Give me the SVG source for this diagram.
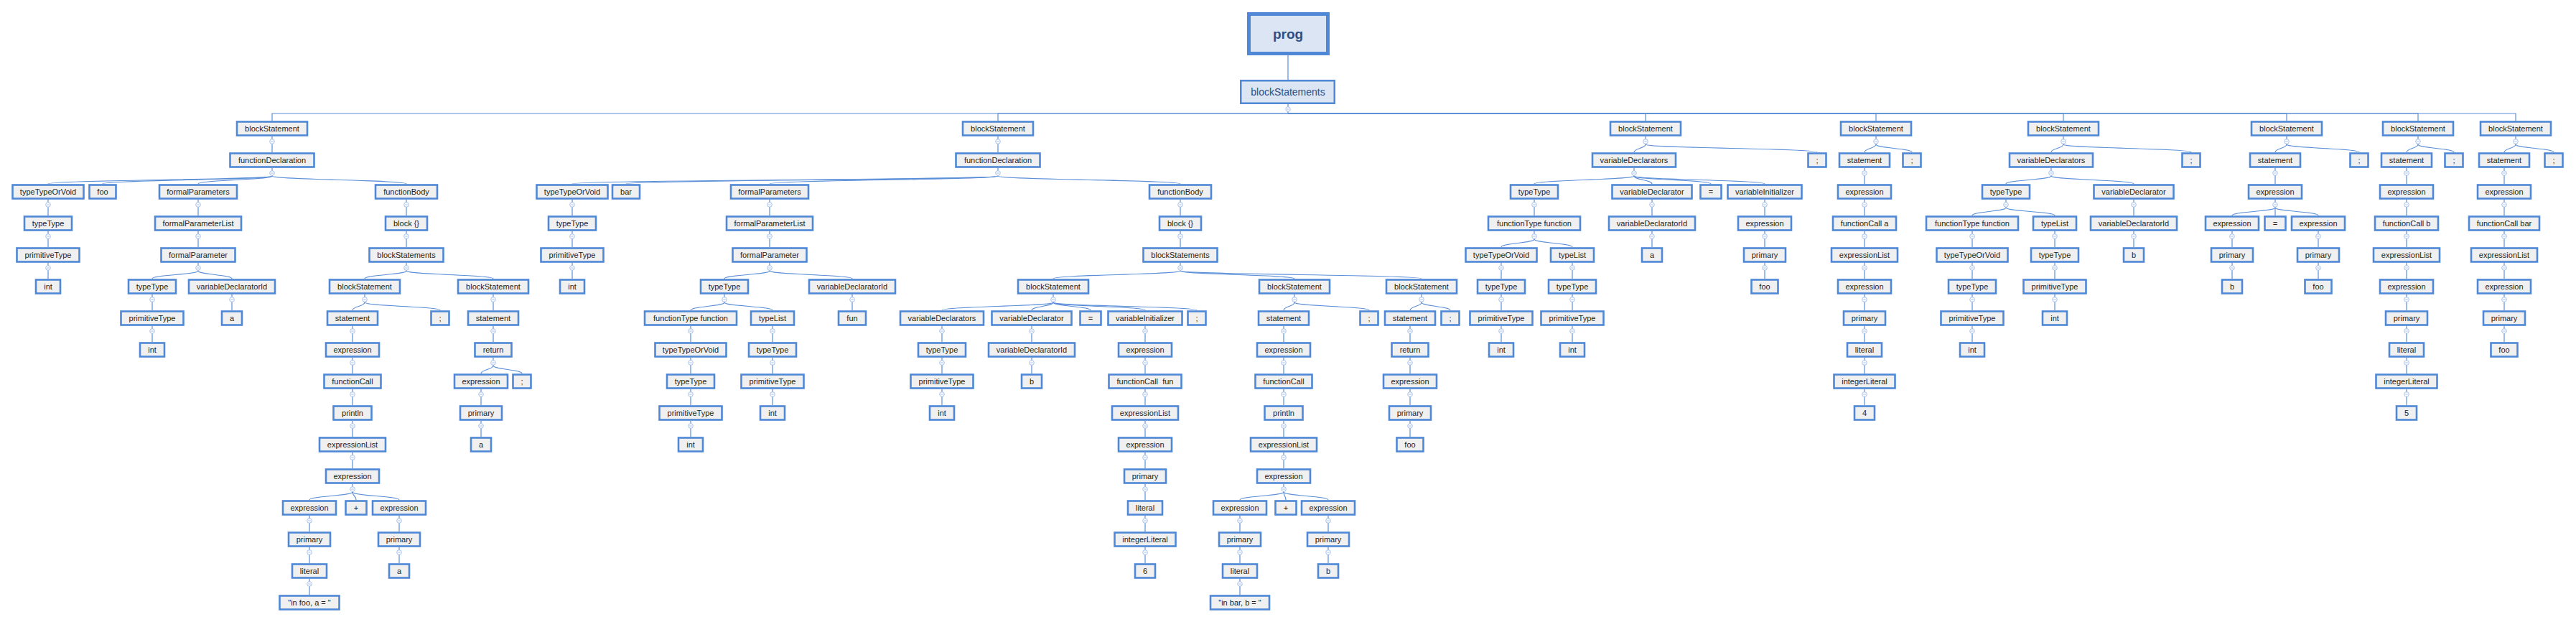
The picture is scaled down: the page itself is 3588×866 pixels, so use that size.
<svg xmlns="http://www.w3.org/2000/svg" xmlns:xlink="http://www.w3.org/1999/xlink" width="3588" height="866" viewBox="0 0 3588 866">
<style>
.n rect{fill:#f0f0f0;stroke:#4f88d6;stroke-width:2.6}
.n text{font-family:"Liberation Sans",Arial,sans-serif;font-size:11px;fill:#1e1e1e;text-anchor:middle}
#connectors path{fill:none;stroke:#5b8fd8;stroke-width:1.2}
.tg circle{fill:#ffffff;stroke:#a7c0ec;stroke-width:1}
.tg path{fill:none;stroke:#a7c0ec;stroke-width:1}
.hd rect{fill:#dbe5f3;stroke:#4f88d6}
.hd text{font-family:"Liberation Sans",Arial,sans-serif;fill:#2e4f85;text-anchor:middle}
</style>
<defs>
<g id="tg" class="tg"><circle cx="0" cy="0" r="3.3"/><path d="M-1.8,0h3.6"/></g>
</defs>
<rect x="0" y="0" width="3588" height="866" fill="#ffffff"/>
<g id="connectors">
<path d="M1794,77V111"/>
<path d="M1794,145V158H379V168"/>
<path d="M1794,158H1390V168"/>
<path d="M1794,158H2292V168"/>
<path d="M1794,158H2613V168"/>
<path d="M1794,158H2874V168"/>
<path d="M1794,158H3185V168"/>
<path d="M1794,158H3368V168"/>
<path d="M1794,158H3504V168"/>
<!-- subtree A -->
<path d="M379,190V212"/>
<path d="M379,234V245"/>
<path d="M379,245C379,250.5 67,250.5 67,256"/>
<path d="M379,245C379,250.5 143,250.5 143,256"/>
<path d="M379,245C379,250.5 276,250.5 276,256"/>
<path d="M379,245C379,250.5 566,250.5 566,256"/>
<path d="M67,278V300"/>
<path d="M67,322V344"/>
<path d="M67,366V388"/>
<path d="M276,278V300"/>
<path d="M276,322V344"/>
<path d="M276,366V377"/>
<path d="M276,377C276,382.5 212,382.5 212,388"/>
<path d="M276,377C276,382.5 323,382.5 323,388"/>
<path d="M212,410V432"/>
<path d="M212,454V476"/>
<path d="M323,410V432"/>
<path d="M566,278V300"/>
<path d="M566,322V344"/>
<path d="M566,366V377"/>
<path d="M566,377C566,382.5 508,382.5 508,388"/>
<path d="M566,377C566,382.5 687,382.5 687,388"/>
<path d="M508,410V421"/>
<path d="M508,421C508,426.5 491,426.5 491,432"/>
<path d="M508,421C508,426.5 613,426.5 613,432"/>
<path d="M491,454V476"/>
<path d="M491,498V520"/>
<path d="M491,542V564"/>
<path d="M491,586V608"/>
<path d="M491,630V652"/>
<path d="M491,674V685"/>
<path d="M491,685C491,690.5 431,690.5 431,696"/>
<path d="M491,685C491,690.5 496,690.5 496,696"/>
<path d="M491,685C491,690.5 556,690.5 556,696"/>
<path d="M431,718V740"/>
<path d="M431,762V784"/>
<path d="M431,806V828"/>
<path d="M556,718V740"/>
<path d="M556,762V784"/>
<path d="M687,410V432"/>
<path d="M687,454V476"/>
<path d="M687,498V509"/>
<path d="M687,509C687,514.5 670,514.5 670,520"/>
<path d="M687,509C687,514.5 727,514.5 727,520"/>
<path d="M670,542V564"/>
<path d="M670,586V608"/>
<!-- subtree B -->
<path d="M1390,190V212"/>
<path d="M1390,234V245"/>
<path d="M1390,245C1390,250.5 797,250.5 797,256"/>
<path d="M1390,245C1390,250.5 872,250.5 872,256"/>
<path d="M1390,245C1390,250.5 1072,250.5 1072,256"/>
<path d="M1390,245C1390,250.5 1644,250.5 1644,256"/>
<path d="M797,278V300"/>
<path d="M797,322V344"/>
<path d="M797,366V388"/>
<path d="M1072,278V300"/>
<path d="M1072,322V344"/>
<path d="M1072,366V377"/>
<path d="M1072,377C1072,382.5 1009,382.5 1009,388"/>
<path d="M1072,377C1072,382.5 1187,382.5 1187,388"/>
<path d="M1009,410V421"/>
<path d="M1009,421C1009,426.5 962,426.5 962,432"/>
<path d="M1009,421C1009,426.5 1076,426.5 1076,432"/>
<path d="M962,454V476"/>
<path d="M962,498V520"/>
<path d="M962,542V564"/>
<path d="M962,586V608"/>
<path d="M1076,454V476"/>
<path d="M1076,498V520"/>
<path d="M1076,542V564"/>
<path d="M1187,410V432"/>
<path d="M1644,278V300"/>
<path d="M1644,322V344"/>
<path d="M1644,366V377"/>
<path d="M1644,377C1644,382.5 1467,382.5 1467,388"/>
<path d="M1644,377C1644,382.5 1803,382.5 1803,388"/>
<path d="M1644,377C1644,382.5 1980,382.5 1980,388"/>
<path d="M1467,410V421"/>
<path d="M1467,421C1467,426.5 1312,426.5 1312,432"/>
<path d="M1467,421C1467,426.5 1437,426.5 1437,432"/>
<path d="M1467,421C1467,426.5 1519,426.5 1519,432"/>
<path d="M1467,421C1467,426.5 1595,426.5 1595,432"/>
<path d="M1467,421C1467,426.5 1667,426.5 1667,432"/>
<path d="M1312,454V476"/>
<path d="M1312,498V520"/>
<path d="M1312,542V564"/>
<path d="M1437,454V476"/>
<path d="M1437,498V520"/>
<path d="M1595,454V476"/>
<path d="M1595,498V520"/>
<path d="M1595,542V564"/>
<path d="M1595,586V608"/>
<path d="M1595,630V652"/>
<path d="M1595,674V696"/>
<path d="M1595,718V740"/>
<path d="M1595,762V784"/>
<path d="M1803,410V421"/>
<path d="M1803,421C1803,426.5 1788,426.5 1788,432"/>
<path d="M1803,421C1803,426.5 1907,426.5 1907,432"/>
<path d="M1788,454V476"/>
<path d="M1788,498V520"/>
<path d="M1788,542V564"/>
<path d="M1788,586V608"/>
<path d="M1788,630V652"/>
<path d="M1788,674V685"/>
<path d="M1788,685C1788,690.5 1727,690.5 1727,696"/>
<path d="M1788,685C1788,690.5 1791,690.5 1791,696"/>
<path d="M1788,685C1788,690.5 1850,690.5 1850,696"/>
<path d="M1727,718V740"/>
<path d="M1727,762V784"/>
<path d="M1727,806V828"/>
<path d="M1850,718V740"/>
<path d="M1850,762V784"/>
<path d="M1980,410V421"/>
<path d="M1980,421C1980,426.5 1964,426.5 1964,432"/>
<path d="M1980,421C1980,426.5 2020,426.5 2020,432"/>
<path d="M1964,454V476"/>
<path d="M1964,498V520"/>
<path d="M1964,542V564"/>
<path d="M1964,586V608"/>
<!-- subtree C -->
<path d="M2292,190V201"/>
<path d="M2292,201C2292,206.5 2276,206.5 2276,212"/>
<path d="M2292,201C2292,206.5 2531,206.5 2531,212"/>
<path d="M2276,234V245"/>
<path d="M2276,245C2276,250.5 2137,250.5 2137,256"/>
<path d="M2276,245C2276,250.5 2301,250.5 2301,256"/>
<path d="M2276,245C2276,250.5 2383,250.5 2383,256"/>
<path d="M2276,245C2276,250.5 2458,250.5 2458,256"/>
<path d="M2137,278V300"/>
<path d="M2137,322V333"/>
<path d="M2137,333C2137,338.5 2091,338.5 2091,344"/>
<path d="M2137,333C2137,338.5 2190,338.5 2190,344"/>
<path d="M2091,366V388"/>
<path d="M2091,410V432"/>
<path d="M2091,454V476"/>
<path d="M2190,366V388"/>
<path d="M2190,410V432"/>
<path d="M2190,454V476"/>
<path d="M2301,278V300"/>
<path d="M2301,322V344"/>
<path d="M2458,278V300"/>
<path d="M2458,322V344"/>
<path d="M2458,366V388"/>
<!-- subtree D -->
<path d="M2613,190V201"/>
<path d="M2613,201C2613,206.5 2597,206.5 2597,212"/>
<path d="M2613,201C2613,206.5 2663,206.5 2663,212"/>
<path d="M2597,234V256"/>
<path d="M2597,278V300"/>
<path d="M2597,322V344"/>
<path d="M2597,366V388"/>
<path d="M2597,410V432"/>
<path d="M2597,454V476"/>
<path d="M2597,498V520"/>
<path d="M2597,542V564"/>
<!-- subtree E -->
<path d="M2874,190V201"/>
<path d="M2874,201C2874,206.5 2857,206.5 2857,212"/>
<path d="M2874,201C2874,206.5 3052,206.5 3052,212"/>
<path d="M2857,234V245"/>
<path d="M2857,245C2857,250.5 2794,250.5 2794,256"/>
<path d="M2857,245C2857,250.5 2972,250.5 2972,256"/>
<path d="M2794,278V289"/>
<path d="M2794,289C2794,294.5 2747,294.5 2747,300"/>
<path d="M2794,289C2794,294.5 2862,294.5 2862,300"/>
<path d="M2747,322V344"/>
<path d="M2747,366V388"/>
<path d="M2747,410V432"/>
<path d="M2747,454V476"/>
<path d="M2862,322V344"/>
<path d="M2862,366V388"/>
<path d="M2862,410V432"/>
<path d="M2972,278V300"/>
<path d="M2972,322V344"/>
<!-- subtree F -->
<path d="M3185,190V201"/>
<path d="M3185,201C3185,206.5 3169,206.5 3169,212"/>
<path d="M3185,201C3185,206.5 3286,206.5 3286,212"/>
<path d="M3169,234V256"/>
<path d="M3169,278V289"/>
<path d="M3169,289C3169,294.5 3109,294.5 3109,300"/>
<path d="M3169,289V300"/>
<path d="M3169,289C3169,294.5 3229,294.5 3229,300"/>
<path d="M3109,322V344"/>
<path d="M3109,366V388"/>
<path d="M3229,322V344"/>
<path d="M3229,366V388"/>
<!-- subtree G -->
<path d="M3368,190V201"/>
<path d="M3368,201C3368,206.5 3352,206.5 3352,212"/>
<path d="M3368,201C3368,206.5 3418,206.5 3418,212"/>
<path d="M3352,234V256"/>
<path d="M3352,278V300"/>
<path d="M3352,322V344"/>
<path d="M3352,366V388"/>
<path d="M3352,410V432"/>
<path d="M3352,454V476"/>
<path d="M3352,498V520"/>
<path d="M3352,542V564"/>
<!-- subtree H -->
<path d="M3504,190V201"/>
<path d="M3504,201C3504,206.5 3488,206.5 3488,212"/>
<path d="M3504,201C3504,206.5 3557,206.5 3557,212"/>
<path d="M3488,234V256"/>
<path d="M3488,278V300"/>
<path d="M3488,322V344"/>
<path d="M3488,366V388"/>
<path d="M3488,410V432"/>
<path d="M3488,454V476"/>
</g>
<g id="toggles">
<use xlink:href="#tg" href="#tg" x="1794" y="152"/>
<use href="#tg" x="379" y="197"/><use href="#tg" x="379" y="241"/>
<use href="#tg" x="67" y="285"/><use href="#tg" x="67" y="329"/><use href="#tg" x="67" y="373"/>
<use href="#tg" x="276" y="285"/><use href="#tg" x="276" y="329"/><use href="#tg" x="276" y="373"/>
<use href="#tg" x="212" y="417"/><use href="#tg" x="212" y="461"/><use href="#tg" x="323" y="417"/>
<use href="#tg" x="566" y="285"/><use href="#tg" x="566" y="329"/><use href="#tg" x="566" y="373"/>
<use href="#tg" x="508" y="417"/><use href="#tg" x="687" y="417"/>
<use href="#tg" x="491" y="461"/><use href="#tg" x="491" y="505"/><use href="#tg" x="491" y="549"/><use href="#tg" x="491" y="593"/><use href="#tg" x="491" y="637"/><use href="#tg" x="491" y="681"/>
<use href="#tg" x="431" y="725"/><use href="#tg" x="431" y="769"/><use href="#tg" x="431" y="813"/>
<use href="#tg" x="556" y="725"/><use href="#tg" x="556" y="769"/>
<use href="#tg" x="687" y="461"/><use href="#tg" x="687" y="505"/><use href="#tg" x="670" y="549"/><use href="#tg" x="670" y="593"/>
<use href="#tg" x="1390" y="197"/><use href="#tg" x="1390" y="241"/>
<use href="#tg" x="797" y="285"/><use href="#tg" x="797" y="329"/><use href="#tg" x="797" y="373"/>
<use href="#tg" x="1072" y="285"/><use href="#tg" x="1072" y="329"/><use href="#tg" x="1072" y="373"/>
<use href="#tg" x="1009" y="417"/><use href="#tg" x="1187" y="417"/>
<use href="#tg" x="962" y="461"/><use href="#tg" x="962" y="505"/><use href="#tg" x="962" y="549"/><use href="#tg" x="962" y="593"/>
<use href="#tg" x="1076" y="461"/><use href="#tg" x="1076" y="505"/><use href="#tg" x="1076" y="549"/>
<use href="#tg" x="1644" y="285"/><use href="#tg" x="1644" y="329"/><use href="#tg" x="1644" y="373"/>
<use href="#tg" x="1467" y="417"/><use href="#tg" x="1803" y="417"/><use href="#tg" x="1980" y="417"/>
<use href="#tg" x="1312" y="461"/><use href="#tg" x="1312" y="505"/><use href="#tg" x="1312" y="549"/>
<use href="#tg" x="1437" y="461"/><use href="#tg" x="1437" y="505"/>
<use href="#tg" x="1595" y="461"/><use href="#tg" x="1595" y="505"/><use href="#tg" x="1595" y="549"/><use href="#tg" x="1595" y="593"/><use href="#tg" x="1595" y="637"/><use href="#tg" x="1595" y="681"/><use href="#tg" x="1595" y="725"/><use href="#tg" x="1595" y="769"/>
<use href="#tg" x="1788" y="461"/><use href="#tg" x="1788" y="505"/><use href="#tg" x="1788" y="549"/><use href="#tg" x="1788" y="593"/><use href="#tg" x="1788" y="637"/><use href="#tg" x="1788" y="681"/>
<use href="#tg" x="1727" y="725"/><use href="#tg" x="1727" y="769"/><use href="#tg" x="1727" y="813"/>
<use href="#tg" x="1850" y="725"/><use href="#tg" x="1850" y="769"/>
<use href="#tg" x="1964" y="461"/><use href="#tg" x="1964" y="505"/><use href="#tg" x="1964" y="549"/><use href="#tg" x="1964" y="593"/>
<use href="#tg" x="2292" y="197"/><use href="#tg" x="2276" y="241"/>
<use href="#tg" x="2137" y="285"/><use href="#tg" x="2137" y="329"/>
<use href="#tg" x="2091" y="373"/><use href="#tg" x="2091" y="417"/><use href="#tg" x="2091" y="461"/>
<use href="#tg" x="2190" y="373"/><use href="#tg" x="2190" y="417"/><use href="#tg" x="2190" y="461"/>
<use href="#tg" x="2301" y="285"/><use href="#tg" x="2301" y="329"/>
<use href="#tg" x="2458" y="285"/><use href="#tg" x="2458" y="329"/><use href="#tg" x="2458" y="373"/>
<use href="#tg" x="2613" y="197"/>
<use href="#tg" x="2597" y="241"/><use href="#tg" x="2597" y="285"/><use href="#tg" x="2597" y="329"/><use href="#tg" x="2597" y="373"/><use href="#tg" x="2597" y="417"/><use href="#tg" x="2597" y="461"/><use href="#tg" x="2597" y="505"/><use href="#tg" x="2597" y="549"/>
<use href="#tg" x="2874" y="197"/><use href="#tg" x="2857" y="241"/><use href="#tg" x="2794" y="285"/>
<use href="#tg" x="2747" y="329"/><use href="#tg" x="2747" y="373"/><use href="#tg" x="2747" y="417"/><use href="#tg" x="2747" y="461"/>
<use href="#tg" x="2862" y="329"/><use href="#tg" x="2862" y="373"/><use href="#tg" x="2862" y="417"/>
<use href="#tg" x="2972" y="285"/><use href="#tg" x="2972" y="329"/>
<use href="#tg" x="3185" y="197"/><use href="#tg" x="3169" y="241"/><use href="#tg" x="3169" y="285"/>
<use href="#tg" x="3109" y="329"/><use href="#tg" x="3109" y="373"/><use href="#tg" x="3229" y="329"/><use href="#tg" x="3229" y="373"/>
<use href="#tg" x="3368" y="197"/>
<use href="#tg" x="3352" y="241"/><use href="#tg" x="3352" y="285"/><use href="#tg" x="3352" y="329"/><use href="#tg" x="3352" y="373"/><use href="#tg" x="3352" y="417"/><use href="#tg" x="3352" y="461"/><use href="#tg" x="3352" y="505"/><use href="#tg" x="3352" y="549"/>
<use href="#tg" x="3504" y="197"/>
<use href="#tg" x="3488" y="241"/><use href="#tg" x="3488" y="285"/><use href="#tg" x="3488" y="329"/><use href="#tg" x="3488" y="373"/><use href="#tg" x="3488" y="417"/><use href="#tg" x="3488" y="461"/>
</g>
<g id="prog" class="hd"><rect x="1739.5" y="19.5" width="110" height="55" stroke-width="5"/><text x="1794" y="54" font-size="19" font-weight="bold">prog</text></g>
<g id="blockStatements" class="hd"><rect x="1728.25" y="112.25" width="130.5" height="31.5" stroke-width="2.5"/><text x="1794" y="133" font-size="14">blockStatements</text></g>
<!-- subtree A -->
<g id="A0" class="n"><rect x="330" y="169.5" width="98" height="19"/><text x="379" y="183">blockStatement</text></g>
<g id="A1" class="n"><rect x="320.5" y="213.5" width="117" height="19"/><text x="379" y="227">functionDeclaration</text></g>
<g id="A2" class="n"><rect x="17.5" y="257.5" width="99" height="19"/><text x="67" y="271">typeTypeOrVoid</text></g>
<g id="A3" class="n"><rect x="124.5" y="257.5" width="37" height="19"/><text x="143" y="271">foo</text></g>
<g id="A4" class="n"><rect x="222" y="257.5" width="108" height="19"/><text x="276" y="271">formalParameters</text></g>
<g id="A5" class="n"><rect x="523" y="257.5" width="86" height="19"/><text x="566" y="271">functionBody</text></g>
<g id="A6" class="n"><rect x="34" y="301.5" width="66" height="19"/><text x="67" y="315">typeType</text></g>
<g id="A7" class="n"><rect x="23.5" y="345.5" width="87" height="19"/><text x="67" y="359">primitiveType</text></g>
<g id="A8" class="n"><rect x="50" y="389.5" width="34" height="19"/><text x="67" y="403">int</text></g>
<g id="A9" class="n"><rect x="216" y="301.5" width="120" height="19"/><text x="276" y="315">formalParameterList</text></g>
<g id="A10" class="n"><rect x="224.5" y="345.5" width="103" height="19"/><text x="276" y="359">formalParameter</text></g>
<g id="A11" class="n"><rect x="179" y="389.5" width="66" height="19"/><text x="212" y="403">typeType</text></g>
<g id="A12" class="n"><rect x="263" y="389.5" width="120" height="19"/><text x="323" y="403">variableDeclaratorId</text></g>
<g id="A13" class="n"><rect x="168.5" y="433.5" width="87" height="19"/><text x="212" y="447">primitiveType</text></g>
<g id="A14" class="n"><rect x="195" y="477.5" width="34" height="19"/><text x="212" y="491">int</text></g>
<g id="A15" class="n"><rect x="309" y="433.5" width="28" height="19"/><text x="323" y="447">a</text></g>
<g id="A16" class="n"><rect x="537" y="301.5" width="58" height="19"/><text x="566" y="315">block {}</text></g>
<g id="A17" class="n"><rect x="514.5" y="345.5" width="103" height="19"/><text x="566" y="359">blockStatements</text></g>
<g id="A18" class="n"><rect x="459" y="389.5" width="98" height="19"/><text x="508" y="403">blockStatement</text></g>
<g id="A19" class="n"><rect x="638" y="389.5" width="98" height="19"/><text x="687" y="403">blockStatement</text></g>
<g id="A20" class="n"><rect x="456" y="433.5" width="70" height="19"/><text x="491" y="447">statement</text></g>
<g id="A21" class="n"><rect x="600.5" y="433.5" width="25" height="19"/><text x="613" y="447">;</text></g>
<g id="A22" class="n"><rect x="454" y="477.5" width="74" height="19"/><text x="491" y="491">expression</text></g>
<g id="A23" class="n"><rect x="451.5" y="521.5" width="79" height="19"/><text x="491" y="535">functionCall</text></g>
<g id="A24" class="n"><rect x="464.5" y="565.5" width="53" height="19"/><text x="491" y="579">println</text></g>
<g id="A25" class="n"><rect x="445" y="609.5" width="92" height="19"/><text x="491" y="623">expressionList</text></g>
<g id="A26" class="n"><rect x="454" y="653.5" width="74" height="19"/><text x="491" y="667">expression</text></g>
<g id="A27" class="n"><rect x="394" y="697.5" width="74" height="19"/><text x="431" y="711">expression</text></g>
<g id="A28" class="n"><rect x="481.5" y="697.5" width="29" height="19"/><text x="496" y="711">+</text></g>
<g id="A29" class="n"><rect x="519" y="697.5" width="74" height="19"/><text x="556" y="711">expression</text></g>
<g id="A30" class="n"><rect x="402" y="741.5" width="58" height="19"/><text x="431" y="755">primary</text></g>
<g id="A31" class="n"><rect x="407" y="785.5" width="48" height="19"/><text x="431" y="799">literal</text></g>
<g id="A32" class="n"><rect x="389.5" y="829.5" width="83" height="19"/><text x="431" y="843">"in foo, a = "</text></g>
<g id="A33" class="n"><rect x="527" y="741.5" width="58" height="19"/><text x="556" y="755">primary</text></g>
<g id="A34" class="n"><rect x="542" y="785.5" width="28" height="19"/><text x="556" y="799">a</text></g>
<g id="A35" class="n"><rect x="652" y="433.5" width="70" height="19"/><text x="687" y="447">statement</text></g>
<g id="A36" class="n"><rect x="661.5" y="477.5" width="51" height="19"/><text x="687" y="491">return</text></g>
<g id="A37" class="n"><rect x="633" y="521.5" width="74" height="19"/><text x="670" y="535">expression</text></g>
<g id="A38" class="n"><rect x="714.5" y="521.5" width="25" height="19"/><text x="727" y="535">;</text></g>
<g id="A39" class="n"><rect x="641" y="565.5" width="58" height="19"/><text x="670" y="579">primary</text></g>
<g id="A40" class="n"><rect x="656" y="609.5" width="28" height="19"/><text x="670" y="623">a</text></g>
<!-- subtree B -->
<g id="B0" class="n"><rect x="1341" y="169.5" width="98" height="19"/><text x="1390" y="183">blockStatement</text></g>
<g id="B1" class="n"><rect x="1331.5" y="213.5" width="117" height="19"/><text x="1390" y="227">functionDeclaration</text></g>
<g id="B2" class="n"><rect x="747.5" y="257.5" width="99" height="19"/><text x="797" y="271">typeTypeOrVoid</text></g>
<g id="B3" class="n"><rect x="853" y="257.5" width="38" height="19"/><text x="872" y="271">bar</text></g>
<g id="B4" class="n"><rect x="1018" y="257.5" width="108" height="19"/><text x="1072" y="271">formalParameters</text></g>
<g id="B5" class="n"><rect x="1601" y="257.5" width="86" height="19"/><text x="1644" y="271">functionBody</text></g>
<g id="B6" class="n"><rect x="764" y="301.5" width="66" height="19"/><text x="797" y="315">typeType</text></g>
<g id="B7" class="n"><rect x="753.5" y="345.5" width="87" height="19"/><text x="797" y="359">primitiveType</text></g>
<g id="B8" class="n"><rect x="780" y="389.5" width="34" height="19"/><text x="797" y="403">int</text></g>
<g id="B9" class="n"><rect x="1012" y="301.5" width="120" height="19"/><text x="1072" y="315">formalParameterList</text></g>
<g id="B10" class="n"><rect x="1020.5" y="345.5" width="103" height="19"/><text x="1072" y="359">formalParameter</text></g>
<g id="B11" class="n"><rect x="976" y="389.5" width="66" height="19"/><text x="1009" y="403">typeType</text></g>
<g id="B12" class="n"><rect x="1127" y="389.5" width="120" height="19"/><text x="1187" y="403">variableDeclaratorId</text></g>
<g id="B13" class="n"><rect x="898" y="433.5" width="128" height="19"/><text x="962" y="447">functionType function</text></g>
<g id="B14" class="n"><rect x="1046" y="433.5" width="60" height="19"/><text x="1076" y="447">typeList</text></g>
<g id="B15" class="n"><rect x="912.5" y="477.5" width="99" height="19"/><text x="962" y="491">typeTypeOrVoid</text></g>
<g id="B16" class="n"><rect x="929" y="521.5" width="66" height="19"/><text x="962" y="535">typeType</text></g>
<g id="B17" class="n"><rect x="918.5" y="565.5" width="87" height="19"/><text x="962" y="579">primitiveType</text></g>
<g id="B18" class="n"><rect x="945" y="609.5" width="34" height="19"/><text x="962" y="623">int</text></g>
<g id="B19" class="n"><rect x="1043" y="477.5" width="66" height="19"/><text x="1076" y="491">typeType</text></g>
<g id="B20" class="n"><rect x="1032.5" y="521.5" width="87" height="19"/><text x="1076" y="535">primitiveType</text></g>
<g id="B21" class="n"><rect x="1059" y="565.5" width="34" height="19"/><text x="1076" y="579">int</text></g>
<g id="B22" class="n"><rect x="1168" y="433.5" width="38" height="19"/><text x="1187" y="447">fun</text></g>
<g id="B23" class="n"><rect x="1615" y="301.5" width="58" height="19"/><text x="1644" y="315">block {}</text></g>
<g id="B24" class="n"><rect x="1592.5" y="345.5" width="103" height="19"/><text x="1644" y="359">blockStatements</text></g>
<g id="B25" class="n"><rect x="1418" y="389.5" width="98" height="19"/><text x="1467" y="403">blockStatement</text></g>
<g id="B26" class="n"><rect x="1754" y="389.5" width="98" height="19"/><text x="1803" y="403">blockStatement</text></g>
<g id="B27" class="n"><rect x="1931" y="389.5" width="98" height="19"/><text x="1980" y="403">blockStatement</text></g>
<g id="B28" class="n"><rect x="1254" y="433.5" width="116" height="19"/><text x="1312" y="447">variableDeclarators</text></g>
<g id="B29" class="n"><rect x="1381.5" y="433.5" width="111" height="19"/><text x="1437" y="447">variableDeclarator</text></g>
<g id="B30" class="n"><rect x="1504.5" y="433.5" width="29" height="19"/><text x="1519" y="447">=</text></g>
<g id="B31" class="n"><rect x="1543.5" y="433.5" width="103" height="19"/><text x="1595" y="447">variableInitializer</text></g>
<g id="B32" class="n"><rect x="1654.5" y="433.5" width="25" height="19"/><text x="1667" y="447">;</text></g>
<g id="B33" class="n"><rect x="1279" y="477.5" width="66" height="19"/><text x="1312" y="491">typeType</text></g>
<g id="B34" class="n"><rect x="1268.5" y="521.5" width="87" height="19"/><text x="1312" y="535">primitiveType</text></g>
<g id="B35" class="n"><rect x="1295" y="565.5" width="34" height="19"/><text x="1312" y="579">int</text></g>
<g id="B36" class="n"><rect x="1377" y="477.5" width="120" height="19"/><text x="1437" y="491">variableDeclaratorId</text></g>
<g id="B37" class="n"><rect x="1423" y="521.5" width="28" height="19"/><text x="1437" y="535">b</text></g>
<g id="B38" class="n"><rect x="1558" y="477.5" width="74" height="19"/><text x="1595" y="491">expression</text></g>
<g id="B39" class="n"><rect x="1544.5" y="521.5" width="101" height="19"/><text x="1595" y="535" xml:space="preserve">functionCall  fun</text></g>
<g id="B40" class="n"><rect x="1549" y="565.5" width="92" height="19"/><text x="1595" y="579">expressionList</text></g>
<g id="B41" class="n"><rect x="1558" y="609.5" width="74" height="19"/><text x="1595" y="623">expression</text></g>
<g id="B42" class="n"><rect x="1566" y="653.5" width="58" height="19"/><text x="1595" y="667">primary</text></g>
<g id="B43" class="n"><rect x="1571" y="697.5" width="48" height="19"/><text x="1595" y="711">literal</text></g>
<g id="B44" class="n"><rect x="1552.5" y="741.5" width="85" height="19"/><text x="1595" y="755">integerLiteral</text></g>
<g id="B45" class="n"><rect x="1581" y="785.5" width="28" height="19"/><text x="1595" y="799">6</text></g>
<g id="B46" class="n"><rect x="1753" y="433.5" width="70" height="19"/><text x="1788" y="447">statement</text></g>
<g id="B47" class="n"><rect x="1894.5" y="433.5" width="25" height="19"/><text x="1907" y="447">;</text></g>
<g id="B48" class="n"><rect x="1751" y="477.5" width="74" height="19"/><text x="1788" y="491">expression</text></g>
<g id="B49" class="n"><rect x="1748.5" y="521.5" width="79" height="19"/><text x="1788" y="535">functionCall</text></g>
<g id="B50" class="n"><rect x="1761.5" y="565.5" width="53" height="19"/><text x="1788" y="579">println</text></g>
<g id="B51" class="n"><rect x="1742" y="609.5" width="92" height="19"/><text x="1788" y="623">expressionList</text></g>
<g id="B52" class="n"><rect x="1751" y="653.5" width="74" height="19"/><text x="1788" y="667">expression</text></g>
<g id="B53" class="n"><rect x="1690" y="697.5" width="74" height="19"/><text x="1727" y="711">expression</text></g>
<g id="B54" class="n"><rect x="1776.5" y="697.5" width="29" height="19"/><text x="1791" y="711">+</text></g>
<g id="B55" class="n"><rect x="1813" y="697.5" width="74" height="19"/><text x="1850" y="711">expression</text></g>
<g id="B56" class="n"><rect x="1698" y="741.5" width="58" height="19"/><text x="1727" y="755">primary</text></g>
<g id="B57" class="n"><rect x="1703" y="785.5" width="48" height="19"/><text x="1727" y="799">literal</text></g>
<g id="B58" class="n"><rect x="1686" y="829.5" width="82" height="19"/><text x="1727" y="843">"in bar, b = "</text></g>
<g id="B59" class="n"><rect x="1821" y="741.5" width="58" height="19"/><text x="1850" y="755">primary</text></g>
<g id="B60" class="n"><rect x="1836" y="785.5" width="28" height="19"/><text x="1850" y="799">b</text></g>
<g id="B61" class="n"><rect x="1929" y="433.5" width="70" height="19"/><text x="1964" y="447">statement</text></g>
<g id="B62" class="n"><rect x="2007.5" y="433.5" width="25" height="19"/><text x="2020" y="447">;</text></g>
<g id="B63" class="n"><rect x="1938.5" y="477.5" width="51" height="19"/><text x="1964" y="491">return</text></g>
<g id="B64" class="n"><rect x="1927" y="521.5" width="74" height="19"/><text x="1964" y="535">expression</text></g>
<g id="B65" class="n"><rect x="1935" y="565.5" width="58" height="19"/><text x="1964" y="579">primary</text></g>
<g id="B66" class="n"><rect x="1945.5" y="609.5" width="37" height="19"/><text x="1964" y="623">foo</text></g>
<!-- subtree C -->
<g id="C0" class="n"><rect x="2243" y="169.5" width="98" height="19"/><text x="2292" y="183">blockStatement</text></g>
<g id="C1" class="n"><rect x="2218" y="213.5" width="116" height="19"/><text x="2276" y="227">variableDeclarators</text></g>
<g id="C2" class="n"><rect x="2518.5" y="213.5" width="25" height="19"/><text x="2531" y="227">;</text></g>
<g id="C3" class="n"><rect x="2104" y="257.5" width="66" height="19"/><text x="2137" y="271">typeType</text></g>
<g id="C4" class="n"><rect x="2245.5" y="257.5" width="111" height="19"/><text x="2301" y="271">variableDeclarator</text></g>
<g id="C5" class="n"><rect x="2368.5" y="257.5" width="29" height="19"/><text x="2383" y="271">=</text></g>
<g id="C6" class="n"><rect x="2406.5" y="257.5" width="103" height="19"/><text x="2458" y="271">variableInitializer</text></g>
<g id="C7" class="n"><rect x="2073" y="301.5" width="128" height="19"/><text x="2137" y="315">functionType function</text></g>
<g id="C8" class="n"><rect x="2041.5" y="345.5" width="99" height="19"/><text x="2091" y="359">typeTypeOrVoid</text></g>
<g id="C9" class="n"><rect x="2160" y="345.5" width="60" height="19"/><text x="2190" y="359">typeList</text></g>
<g id="C10" class="n"><rect x="2058" y="389.5" width="66" height="19"/><text x="2091" y="403">typeType</text></g>
<g id="C11" class="n"><rect x="2047.5" y="433.5" width="87" height="19"/><text x="2091" y="447">primitiveType</text></g>
<g id="C12" class="n"><rect x="2074" y="477.5" width="34" height="19"/><text x="2091" y="491">int</text></g>
<g id="C13" class="n"><rect x="2157" y="389.5" width="66" height="19"/><text x="2190" y="403">typeType</text></g>
<g id="C14" class="n"><rect x="2146.5" y="433.5" width="87" height="19"/><text x="2190" y="447">primitiveType</text></g>
<g id="C15" class="n"><rect x="2173" y="477.5" width="34" height="19"/><text x="2190" y="491">int</text></g>
<g id="C16" class="n"><rect x="2241" y="301.5" width="120" height="19"/><text x="2301" y="315">variableDeclaratorId</text></g>
<g id="C17" class="n"><rect x="2287" y="345.5" width="28" height="19"/><text x="2301" y="359">a</text></g>
<g id="C18" class="n"><rect x="2421" y="301.5" width="74" height="19"/><text x="2458" y="315">expression</text></g>
<g id="C19" class="n"><rect x="2429" y="345.5" width="58" height="19"/><text x="2458" y="359">primary</text></g>
<g id="C20" class="n"><rect x="2439.5" y="389.5" width="37" height="19"/><text x="2458" y="403">foo</text></g>
<!-- subtree D -->
<g id="D0" class="n"><rect x="2564" y="169.5" width="98" height="19"/><text x="2613" y="183">blockStatement</text></g>
<g id="D1" class="n"><rect x="2562" y="213.5" width="70" height="19"/><text x="2597" y="227">statement</text></g>
<g id="D2" class="n"><rect x="2650.5" y="213.5" width="25" height="19"/><text x="2663" y="227">;</text></g>
<g id="D3" class="n"><rect x="2560" y="257.5" width="74" height="19"/><text x="2597" y="271">expression</text></g>
<g id="D4" class="n"><rect x="2553" y="301.5" width="88" height="19"/><text x="2597" y="315">functionCall a</text></g>
<g id="D5" class="n"><rect x="2551" y="345.5" width="92" height="19"/><text x="2597" y="359">expressionList</text></g>
<g id="D6" class="n"><rect x="2560" y="389.5" width="74" height="19"/><text x="2597" y="403">expression</text></g>
<g id="D7" class="n"><rect x="2568" y="433.5" width="58" height="19"/><text x="2597" y="447">primary</text></g>
<g id="D8" class="n"><rect x="2573" y="477.5" width="48" height="19"/><text x="2597" y="491">literal</text></g>
<g id="D9" class="n"><rect x="2554.5" y="521.5" width="85" height="19"/><text x="2597" y="535">integerLiteral</text></g>
<g id="D10" class="n"><rect x="2583" y="565.5" width="28" height="19"/><text x="2597" y="579">4</text></g>
<!-- subtree E -->
<g id="E0" class="n"><rect x="2825" y="169.5" width="98" height="19"/><text x="2874" y="183">blockStatement</text></g>
<g id="E1" class="n"><rect x="2799" y="213.5" width="116" height="19"/><text x="2857" y="227">variableDeclarators</text></g>
<g id="E2" class="n"><rect x="3039.5" y="213.5" width="25" height="19"/><text x="3052" y="227">;</text></g>
<g id="E3" class="n"><rect x="2761" y="257.5" width="66" height="19"/><text x="2794" y="271">typeType</text></g>
<g id="E4" class="n"><rect x="2916.5" y="257.5" width="111" height="19"/><text x="2972" y="271">variableDeclarator</text></g>
<g id="E5" class="n"><rect x="2683" y="301.5" width="128" height="19"/><text x="2747" y="315">functionType function</text></g>
<g id="E6" class="n"><rect x="2832" y="301.5" width="60" height="19"/><text x="2862" y="315">typeList</text></g>
<g id="E7" class="n"><rect x="2697.5" y="345.5" width="99" height="19"/><text x="2747" y="359">typeTypeOrVoid</text></g>
<g id="E8" class="n"><rect x="2714" y="389.5" width="66" height="19"/><text x="2747" y="403">typeType</text></g>
<g id="E9" class="n"><rect x="2703.5" y="433.5" width="87" height="19"/><text x="2747" y="447">primitiveType</text></g>
<g id="E10" class="n"><rect x="2730" y="477.5" width="34" height="19"/><text x="2747" y="491">int</text></g>
<g id="E11" class="n"><rect x="2829" y="345.5" width="66" height="19"/><text x="2862" y="359">typeType</text></g>
<g id="E12" class="n"><rect x="2818.5" y="389.5" width="87" height="19"/><text x="2862" y="403">primitiveType</text></g>
<g id="E13" class="n"><rect x="2845" y="433.5" width="34" height="19"/><text x="2862" y="447">int</text></g>
<g id="E14" class="n"><rect x="2912" y="301.5" width="120" height="19"/><text x="2972" y="315">variableDeclaratorId</text></g>
<g id="E15" class="n"><rect x="2958" y="345.5" width="28" height="19"/><text x="2972" y="359">b</text></g>
<!-- subtree F -->
<g id="F0" class="n"><rect x="3136" y="169.5" width="98" height="19"/><text x="3185" y="183">blockStatement</text></g>
<g id="F1" class="n"><rect x="3134" y="213.5" width="70" height="19"/><text x="3169" y="227">statement</text></g>
<g id="F2" class="n"><rect x="3273.5" y="213.5" width="25" height="19"/><text x="3286" y="227">;</text></g>
<g id="F3" class="n"><rect x="3132" y="257.5" width="74" height="19"/><text x="3169" y="271">expression</text></g>
<g id="F4" class="n"><rect x="3072" y="301.5" width="74" height="19"/><text x="3109" y="315">expression</text></g>
<g id="F5" class="n"><rect x="3154.5" y="301.5" width="29" height="19"/><text x="3169" y="315">=</text></g>
<g id="F6" class="n"><rect x="3192" y="301.5" width="74" height="19"/><text x="3229" y="315">expression</text></g>
<g id="F7" class="n"><rect x="3080" y="345.5" width="58" height="19"/><text x="3109" y="359">primary</text></g>
<g id="F8" class="n"><rect x="3095" y="389.5" width="28" height="19"/><text x="3109" y="403">b</text></g>
<g id="F9" class="n"><rect x="3200" y="345.5" width="58" height="19"/><text x="3229" y="359">primary</text></g>
<g id="F10" class="n"><rect x="3210.5" y="389.5" width="37" height="19"/><text x="3229" y="403">foo</text></g>
<!-- subtree G -->
<g id="G0" class="n"><rect x="3319" y="169.5" width="98" height="19"/><text x="3368" y="183">blockStatement</text></g>
<g id="G1" class="n"><rect x="3317" y="213.5" width="70" height="19"/><text x="3352" y="227">statement</text></g>
<g id="G2" class="n"><rect x="3405.5" y="213.5" width="25" height="19"/><text x="3418" y="227">;</text></g>
<g id="G3" class="n"><rect x="3315" y="257.5" width="74" height="19"/><text x="3352" y="271">expression</text></g>
<g id="G4" class="n"><rect x="3308" y="301.5" width="88" height="19"/><text x="3352" y="315">functionCall b</text></g>
<g id="G5" class="n"><rect x="3306" y="345.5" width="92" height="19"/><text x="3352" y="359">expressionList</text></g>
<g id="G6" class="n"><rect x="3315" y="389.5" width="74" height="19"/><text x="3352" y="403">expression</text></g>
<g id="G7" class="n"><rect x="3323" y="433.5" width="58" height="19"/><text x="3352" y="447">primary</text></g>
<g id="G8" class="n"><rect x="3328" y="477.5" width="48" height="19"/><text x="3352" y="491">literal</text></g>
<g id="G9" class="n"><rect x="3309.5" y="521.5" width="85" height="19"/><text x="3352" y="535">integerLiteral</text></g>
<g id="G10" class="n"><rect x="3338" y="565.5" width="28" height="19"/><text x="3352" y="579">5</text></g>
<!-- subtree H -->
<g id="H0" class="n"><rect x="3455" y="169.5" width="98" height="19"/><text x="3504" y="183">blockStatement</text></g>
<g id="H1" class="n"><rect x="3453" y="213.5" width="70" height="19"/><text x="3488" y="227">statement</text></g>
<g id="H2" class="n"><rect x="3544.5" y="213.5" width="25" height="19"/><text x="3557" y="227">;</text></g>
<g id="H3" class="n"><rect x="3451" y="257.5" width="74" height="19"/><text x="3488" y="271">expression</text></g>
<g id="H4" class="n"><rect x="3439" y="301.5" width="98" height="19"/><text x="3488" y="315">functionCall bar</text></g>
<g id="H5" class="n"><rect x="3442" y="345.5" width="92" height="19"/><text x="3488" y="359">expressionList</text></g>
<g id="H6" class="n"><rect x="3451" y="389.5" width="74" height="19"/><text x="3488" y="403">expression</text></g>
<g id="H7" class="n"><rect x="3459" y="433.5" width="58" height="19"/><text x="3488" y="447">primary</text></g>
<g id="H8" class="n"><rect x="3469.5" y="477.5" width="37" height="19"/><text x="3488" y="491">foo</text></g>
</svg>
